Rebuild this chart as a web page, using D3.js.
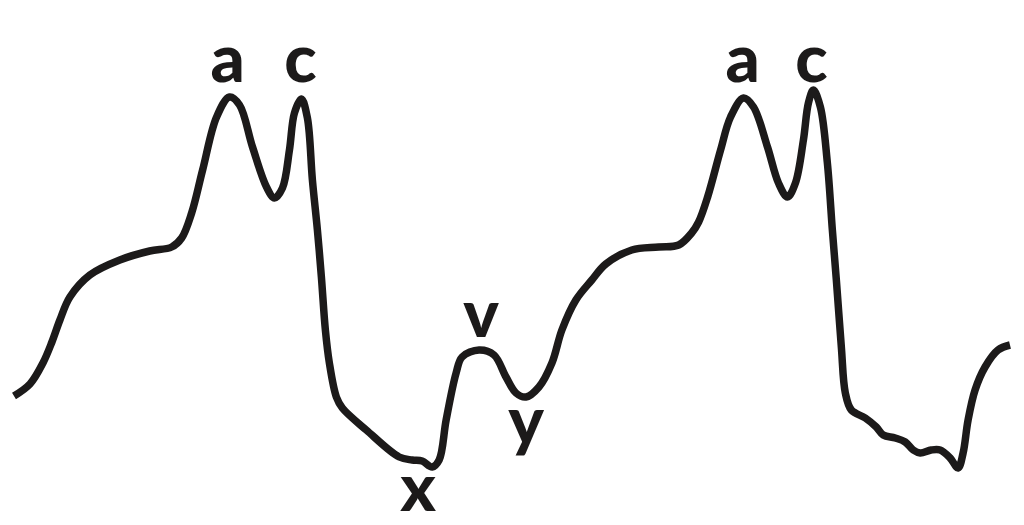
<!DOCTYPE html>
<html>
<head>
<meta charset="utf-8">
<script src="https://cdn.jsdelivr.net/npm/d3@7"></script>
<style>
  html, body { margin: 0; padding: 0; background: #ffffff; }
  svg { display: block; }
</style>
</head>
<body>
<svg id="chart" width="1024" height="525"></svg>
<script>
// Jugular venous pressure waveform (time in ms, pressure in arbitrary units)
const time = [0,16,29,38,46,56,76,106,136,158,168,178,189,203,216,226,239,253,261,269,276,281,288,294,299,304,308,312,316,323,329,353,386,399,409,419,426,433,443,449,466,481,493,503,513,526,539,549,563,579,593,619,646,666,679,686,695,708,718,731,741,755,766,775,783,791,796,801,808,815,820,824,829,833,839,853,864,871,883,893,901,908,919,928,938,946,951,956,963,973,986,998];
const pressure = [4.2,4.8,5.85,6.9,8.0,9.15,10.25,11.0,11.45,11.65,12.1,13.35,15.5,18.15,19.15,18.75,16.65,14.65,14.1,14.6,16.5,18.35,19.05,18.1,15.0,12.5,10.15,7.5,5.85,4.15,3.6,2.5,1.15,1.0,0.95,0.65,1.0,3.0,5.35,6.15,6.5,6.25,5.15,4.35,4.15,4.65,5.85,7.5,9.0,10.0,10.8,11.5,11.65,11.75,12.35,12.9,14.15,16.5,18.15,19.1,18.65,16.65,14.85,14.15,14.85,17.0,18.85,19.5,18.65,15.85,12.5,10.0,6.65,4.35,3.5,3.1,2.65,2.25,2.1,1.9,1.5,1.35,1.5,1.5,1.1,0.6,1.35,3.0,4.5,5.65,6.5,6.75];

// Wave labels
const labelText = ["a","c","x","v","y","a","c"];
const labelTime = [214,287,405,468,513,730,799];
const labelPressure = [19.9,19.9,-1.55,7.15,1.8,19.9,19.9];

const svg = d3.select("#chart");
const x = d3.scaleLinear().domain([0, 1000]).range([14, 1012]);
const y = d3.scaleLinear().domain([0, 20]).range([480, 80]);

const data = time.map((t, i) => ({ t, p: pressure[i] }));

const line = d3.line()
  .x(d => x(d.t))
  .y(d => y(d.p))
  .curve(d3.curveCatmullRom.alpha(0.5));

svg.append("path")
  .datum(data)
  .attr("fill", "none")
  .attr("stroke", "#1c1a1a")
  .attr("stroke-width", 7.5)
  .attr("stroke-linejoin", "round")
  .attr("stroke-linecap", "butt")
  .attr("d", line);

const labels = labelText.map((s, i) => ({ s, t: labelTime[i], p: labelPressure[i] }));
svg.selectAll("text.lbl")
  .data(labels)
  .join("text")
  .attr("class", "lbl")
  .attr("x", d => x(d.t))
  .attr("y", d => y(d.p))
  .attr("text-anchor", "middle")
  .attr("font-family", "Lato, 'DejaVu Sans', sans-serif")
  .attr("font-weight", 900)
  .attr("font-size", 67)
  .attr("fill", "#1c1a1a")
  .text(d => d.s);
</script>
</body>
</html>
